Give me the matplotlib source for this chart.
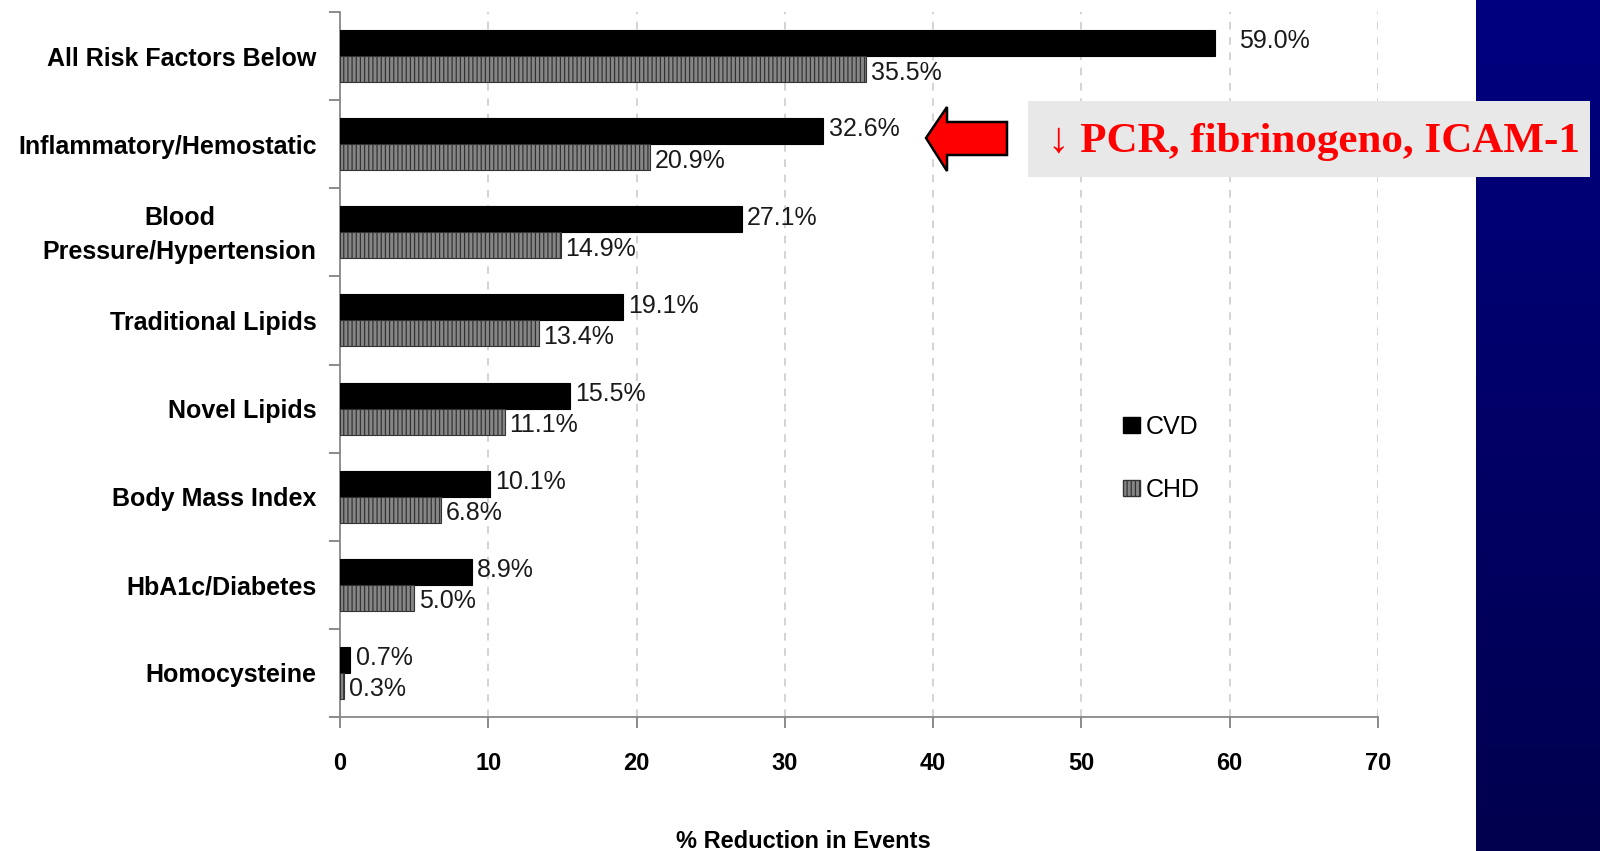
import numpy as np
import matplotlib
matplotlib.use("Agg")
import matplotlib.pyplot as plt
from matplotlib.patches import Patch, Polygon, Rectangle
from matplotlib.transforms import ScaledTranslation

categories = ["All Risk Factors Below", "Inflammatory/Hemostatic",
              "Blood\nPressure/Hypertension", "Traditional Lipids",
              "Novel Lipids", "Body Mass Index", "HbA1c/Diabetes", "Homocysteine"]
cvd = [59.0, 32.6, 27.1, 19.1, 15.5, 10.1, 8.9, 0.7]
chd = [35.5, 20.9, 14.9, 13.4, 11.1, 6.8, 5.0, 0.3]
xticks = [0, 10, 20, 30, 40, 50, 60, 70]
series_names = ["CVD", "CHD"]
xlabel = "% Reduction in Events"
note = "\u2193 PCR, fibrinogeno, ICAM-1"

plt.rcParams['font.family'] = ['Liberation Sans', 'DejaVu Sans']
plt.rcParams['hatch.color'] = '#5c5c5c'
plt.rcParams['hatch.linewidth'] = 0.9

W, H = 1600, 851
fig = plt.figure(figsize=(16, 8.51), dpi=100)
fig.patch.set_facecolor('white')

# blue gradient panel on the right
bg = fig.add_axes([1476 / W, 0, 1 - 1476 / W, 1])
grad = np.linspace(0, 1, 256).reshape(-1, 1)
top = np.array([0, 0, 128]) / 255
bot = np.array([0, 0, 78]) / 255
img = top[None, None, :] * (1 - grad[:, :, None]) + bot[None, None, :] * grad[:, :, None]
bg.imshow(img, aspect='auto', extent=[0, 1, 0, 1])
bg.set_axis_off()

ax = fig.add_axes([340 / W, 1 - 717 / H, (1378 - 340) / W, (717 - 12) / H])
y = np.arange(len(categories))
h = 0.295
ax.barh(y - h / 2, cvd, height=h, color='black', edgecolor='black', linewidth=0.8, zorder=3)
ax.barh(y + h / 2, chd, height=h, color='#868686', edgecolor='#333333', linewidth=0.8,
        hatch='||||', zorder=3)

for i, (a, b) in enumerate(zip(cvd, chd)):
    off_a = 1.6 if i == 0 else 0.35
    ax.text(a + off_a, i - h / 2 - 0.02, f"{a:.1f}%", va='center', ha='left',
            fontsize=18, color='#1a1a1a', zorder=4)
    ax.text(b + 0.3, i + h / 2 + 0.04, f"{b:.1f}%", va='center', ha='left',
            fontsize=18, color='#1a1a1a', zorder=4)

ax.set_xlim(0, 70)
ax.set_ylim(len(categories) - 0.5, -0.5)
ax.set_xticks(xticks)
ax.set_xticklabels([str(t) for t in xticks], fontsize=17, fontweight='bold')
ax.set_yticks(y)
ax.set_yticklabels(categories, fontsize=18, fontweight='bold', multialignment='center',
                   linespacing=1.55)
ax.set_yticks(np.arange(len(categories) + 1) - 0.5, minor=True)
ax.tick_params(axis='y', which='major', length=0, pad=17)
ax.tick_params(axis='y', which='minor', length=8, color='#777777', width=1.2)
ax.tick_params(axis='x', length=8, color='#777777', width=1.2, pad=17)
ax.grid(axis='x', linestyle=(0, (5, 5)), color='#c8c8c8', linewidth=1.1, zorder=0)
for s in ['top', 'right']:
    ax.spines[s].set_visible(False)
for s in ['left', 'bottom']:
    ax.spines[s].set_color('#888888')
    ax.spines[s].set_linewidth(1.3)
ax.set_facecolor('none')

# two-line label sits slightly higher in the reference
lbl = ax.get_yticklabels()[2]
lbl.set_transform(lbl.get_transform() + ScaledTranslation(0, 5 / 100, fig.dpi_scale_trans))

handles = [Patch(facecolor='black', edgecolor='black'),
           Patch(facecolor='#868686', edgecolor='#333333', hatch='||||')]
ax.legend(handles, series_names, loc='center left', bbox_to_anchor=(0.733, 0.367),
          frameon=False, fontsize=18, labelspacing=1.55, handlelength=0.65,
          handleheight=0.65, handletextpad=0.25)

fig.text(803 / W, 1 - 848 / H, xlabel, ha='center', va='baseline', fontsize=17,
         fontweight='bold')

# annotation box
fig.patches.append(Rectangle((1028 / W, 1 - 177 / H), (1590 - 1028) / W, (177 - 101) / H,
                             transform=fig.transFigure, facecolor='#e8e8e8',
                             edgecolor='none', zorder=5))
fig.text(1048 / W, 1 - 142 / H, note, ha='left', va='center', fontsize=31,
         fontweight='bold', color='#ff0000', family=['Liberation Serif', 'DejaVu Serif'],
         zorder=6)

# red arrow
pts = [(926, 138), (947, 107), (947, 122), (1007, 122), (1007, 155), (947, 155), (947, 171)]
fig.patches.append(Polygon([(px / W, 1 - py / H) for px, py in pts], closed=True,
                           transform=fig.transFigure, facecolor='#ff0000',
                           edgecolor='black', linewidth=1.8, zorder=6))

fig.savefig('out.png', dpi=100)
